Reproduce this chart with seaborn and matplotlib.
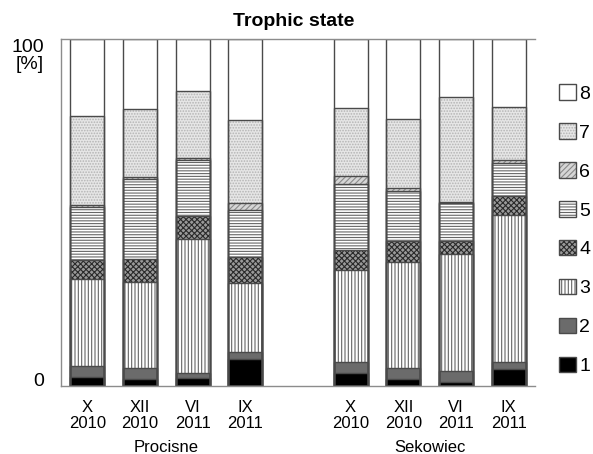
import matplotlib
matplotlib.use("Agg")
import matplotlib.pyplot as plt
import matplotlib.patches as mpatches
import matplotlib.transforms as mtransforms
import numpy as np
import pandas as pd
import seaborn as sns

# ---------------- data ----------------
sample_labels = ["X\n2010", "XII\n2010", "VI\n2011", "IX\n2011",
                 "X\n2010", "XII\n2010", "VI\n2011", "IX\n2011"]
sites = ["Procisne", "Sekowiec"]
positions = [0, 1, 2, 3, 5, 6, 7, 8]
classes = ["1", "2", "3", "4", "5", "6", "7", "8"]

state1 = [2.5, 1.9, 2.2, 7.7, 3.7, 1.9, 1.25, 4.9]
state2 = [3.4, 3.2, 1.5, 2.2, 3.1, 3.2, 3.05, 2.1]
state3 = [24.9, 24.9, 38.7, 19.7, 26.7, 30.8, 33.8, 42.3]
state4 = [5.4, 6.5, 6.6, 7.7, 5.7, 6.0, 3.8, 5.6]
state5 = [15.3, 23.2, 16.2, 13.5, 19.0, 14.4, 11.0, 9.3]
state6 = [0.6, 0.6, 0.7, 2.1, 2.4, 0.7, 0.2, 1.0]
state7 = [25.8, 19.5, 19.1, 23.8, 19.5, 19.9, 30.2, 15.4]
state8 = [22.1, 20.2, 15.0, 23.3, 19.9, 23.1, 16.7, 19.4]

layers = [state1, state2, state3, state4, state5, state6, state7, state8]

# styles: (facecolor, hatch, hatchcolor)
styles = {
    "1": ("#000000", None, "#000000"),
    "2": ("#6b6b6b", None, "#6b6b6b"),
    "3": ("#ffffff", "|||||", "#666666"),
    "4": ("#9a9a9a", "xxxxxx", "#2a2a2a"),
    "5": ("#ffffff", "------", "#666666"),
    "6": ("#d6d6d6", "//////", "#8a8a8a"),
    "7": ("#e6e6e6", "......", "#b4b4b4"),
    "8": ("#ffffff", None, "#ffffff"),
}
outline = "#4a4a4a"

# ---------------- figure ----------------
sns.set_style("white")
plt.rcParams["font.family"] = ["Liberation Sans", "DejaVu Sans"]
plt.rcParams["hatch.linewidth"] = 0.8
plt.rcParams["text.color"] = "black"
plt.rcParams["xtick.color"] = "black"
plt.rcParams["ytick.color"] = "black"

fig = plt.figure(figsize=(5.93, 4.54), dpi=100)
ax = fig.add_axes([61 / 593, 68 / 454, 474 / 593, 346.7 / 454])

cum = np.cumsum(np.array(layers), axis=0)

# fills (top layer first so lower layers cover it)
for k in range(len(classes) - 1, -1, -1):
    fc, hatch, hc = styles[classes[k]]
    df = pd.DataFrame({"pos": positions, "val": cum[k]})
    kw = dict(hatch=hatch) if hatch else {}
    sns.barplot(data=df, x="pos", y="val", native_scale=True, width=0.645,
                color=fc, saturation=1, edgecolor=hc, linewidth=0,
                errorbar=None, ax=ax, **kw)

# outlines
for k in range(len(classes) - 1, -1, -1):
    df = pd.DataFrame({"pos": positions, "val": cum[k]})
    sns.barplot(data=df, x="pos", y="val", native_scale=True, width=0.645,
                fill=False, color=outline, linewidth=1.0,
                errorbar=None, ax=ax)

ax.set_xlim(-0.5, 8.5)
ax.set_ylim(0, 100)
ax.set_xlabel("")
ax.set_ylabel("")

ax.set_xticks(positions)
ax.set_xticklabels(sample_labels, fontsize=12, linespacing=1.1, color="black")
ax.tick_params(axis="x", length=0, pad=10)

ax.set_yticks([0, 100])
ylabels = ax.set_yticklabels(["0", "100\n[%]"], fontsize=14, linespacing=1.0, color="black")
ylabels[0].set_va("baseline")
ylabels[1].set_va("top")
ax.tick_params(axis="y", length=0, pad=12.5)

for side in ["left", "top", "bottom"]:
    ax.spines[side].set_visible(True)
    ax.spines[side].set_color("#8c8c8c")
    ax.spines[side].set_linewidth(1.0)
ax.spines["right"].set_visible(False)

trans = mtransforms.blended_transform_factory(ax.transData, fig.transFigure)
ax.text(1.5, 1 - 447 / 454, sites[0], transform=trans, ha="center", va="center",
        fontsize=12, color="black")
ax.text(6.5, 1 - 447 / 454, sites[1], transform=trans, ha="center", va="center",
        fontsize=12, color="black")

fig.text(294 / 593, 1 - 21.7 / 454, "Trophic state", ha="center", va="center",
         fontsize=14, fontweight="bold", color="black")

handles = []
for c in classes[::-1]:
    fc, hatch, hc = styles[c]
    p1 = mpatches.Patch(facecolor=fc, hatch=hatch, edgecolor=hc, linewidth=0)
    p2 = mpatches.Patch(fill=False, edgecolor=outline, linewidth=1.0)
    handles.append((p1, p2))
leg = fig.legend(handles, classes[::-1], loc="center left",
                 bbox_to_anchor=(559 / 593, 1 - 229.75 / 454), frameon=False,
                 fontsize=14, handlelength=0.85, handleheight=0.85, handletextpad=0.2,
                 labelspacing=1.05, borderpad=0, borderaxespad=0)
for t in leg.get_texts():
    t.set_color("black")

fig.savefig("out.png", dpi=100)
